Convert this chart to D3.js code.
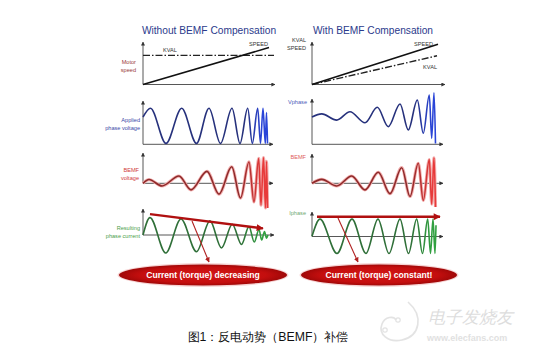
<!DOCTYPE html>
<html><head><meta charset="utf-8">
<script src="https://cdn.jsdelivr.net/npm/d3@7/dist/d3.min.js"></script>
<style>
html,body{margin:0;padding:0;background:#fff;}
svg{display:block;}
text{font-family:"Liberation Sans",Arial,sans-serif;}
</style></head>
<body><svg id="c" width="558" height="358"></svg>
<script>
// ---------------- DATA (time units along each panel's x axis, normalized amplitude) ----------------
const titles = ["Without BEMF Compensation", "With BEMF Compensation"];
const bannerTexts = ["Current (torque) decreasing", "Current (torque) constant!"];
const captionText = "图1：反电动势（BEMF）补偿";

// Top row: motor speed / KVAL
const speedLeft = [[0, 0], [126, 0.90]];
const kvalLeft  = [[0, 0.71], [131, 0.71]];
const speedRight = [[0, 0], [126, 0.98]];
const kvalRight  = [[0, 0], [125, 0.70]];

// Applied phase voltage (extrema)
const appliedLeft = [[0,0.4],[7.5,0.8],[23,-0.8],[38.7,0.8],[53.5,-0.8],[66,0.8],[77.5,-0.8],[89,0.8],[97,-0.8],[104.7,0.8],[109.3,-0.8],[114.7,0.8],[117.5,-0.8],[120,0.8],[122.3,-0.8],[123.5,0.6],[124.5,-0.8]];
const appliedRight = [[0,0],[9.7,0.14],[24.7,-0.14],[38,0.24],[53,-0.26],[65.3,0.44],[76.3,-0.44],[88,0.59],[96.3,-0.59],[105.3,0.77],[111.3,-0.74],[117.3,1.0],[119.7,-0.97],[122,1.1],[123.5,-1.2]];

// BEMF voltage (extrema)
const bemfLeft = [[0,0],[6,0.17],[19,-0.12],[36,0.33],[48,-0.3],[64,0.54],[76,-0.49],[88.7,0.75],[97.5,-0.67],[106,0.97],[111,-0.85],[115.7,1.13],[118,-0.99],[120.5,1.17],[122.5,-1.12],[123.5,1.0],[124.5,-1.12]];
const bemfRight = [[0,0],[9.7,0.18],[24.7,-0.12],[39.7,0.33],[53,-0.3],[66.3,0.5],[78,-0.47],[89.7,0.71],[98,-0.6],[106.3,0.91],[111.3,-0.78],[117.3,1.08],[119.7,-0.95],[122,1.16],[123.5,-1.08]];

// Resulting phase current (extrema)
const currentLeft = [[0,0],[7,0.79],[22.7,-0.82],[38,0.73],[53.5,-0.76],[67,0.64],[78.5,-0.59],[89.3,0.49],[98.5,-0.43],[106,0.38],[111.3,-0.32],[116,0.25],[118.7,-0.23],[121.5,0.16],[123.5,-0.14],[125,0]];
const currentRight = [[0,0],[8,0.78],[25,-0.78],[40,0.78],[54,-0.78],[66,0.78],[77,-0.78],[88,0.78],[96.5,-0.78],[104.7,0.78],[110.5,-0.78],[115.7,0.78],[118.5,-0.78],[121,0.78],[123,-0.78],[124,0.5]];

// Current envelope arrows and annotation arrows
const envLeft = [[7, 0.95], [120, 0.30]];
const envRight = [[5, 0.89], [128, 0.89]];
const pointerLeft = [[49, 0.64], [66, -1.23]];
const pointerRight = [[26, 0.83], [46, -1.17]];

// ---------------- LAYOUT ----------------
const svg = d3.select("#c");
const defs = svg.append("defs");
function marker(id, color, w, h){
  defs.append("marker").attr("id", id).attr("viewBox","0 0 10 10").attr("refX",9).attr("refY",5)
    .attr("markerWidth", w).attr("markerHeight", h).attr("orient","auto").attr("markerUnits","userSpaceOnUse")
    .append("path").attr("d","M0,0L10,5L0,10Z").attr("fill", color);
}
marker("ax", "#333", 4, 4);
marker("redBig", "#b01010", 8, 7);
marker("redSmall", "#b02020", 5, 5);

function grad(id, x1, x2, stops){
  const g = defs.append("linearGradient").attr("id", id).attr("gradientUnits","userSpaceOnUse")
    .attr("x1", x1).attr("x2", x2).attr("y1",0).attr("y2",0);
  stops.forEach(s => g.append("stop").attr("offset", s[0]).attr("stop-color", s[1]));
}
grad("blueL", 245, 262, [[0,"#26317c"],[1,"#2a45d8"]]);
grad("blueR", 414, 432, [[0,"#26317c"],[1,"#2a45d8"]]);
grad("redL", 240, 262, [[0,"#8e2a2a"],[1,"#e83a3a"]]);
grad("redR", 410, 432, [[0,"#8e2a2a"],[1,"#e83a3a"]]);
grad("greenL", 240, 262, [[0,"#2f6f38"],[1,"#30a040"]]);
grad("greenR", 410, 432, [[0,"#2f6f38"],[1,"#30a040"]]);

const cols = [
  {x: d3.scaleLinear().domain([0,130]).range([143,273]), side:"L"},
  {x: d3.scaleLinear().domain([0,130]).range([312,442]), side:"R"}
];

// Titles
svg.selectAll("text.title").data(titles).join("text").attr("class","title")
  .attr("x",(d,i)=> i===0 ? 209 : 373).attr("y", 34).attr("text-anchor","middle")
  .attr("font-size", 10.2).attr("fill","#2b3a8c").text(d=>d);

function axes(x, yTop, yBase, xEnd){
  svg.append("line").attr("x1", x.range()[0]).attr("x2", x.range()[0]).attr("y1", yBase).attr("y2", yTop)
    .attr("stroke","#444").attr("stroke-width",0.9).attr("marker-end","url(#ax)");
  svg.append("line").attr("x1", x.range()[0]).attr("x2", xEnd).attr("y1", yBase).attr("y2", yBase)
    .attr("stroke","#444").attr("stroke-width",0.9).attr("marker-end","url(#ax)");
}
function label(lines, xr, y0, color, anchor, size){
  lines.forEach((t,i)=> svg.append("text").attr("x", xr).attr("y", y0 + i*8).attr("text-anchor", anchor||"end")
    .attr("font-size", size||5.6).attr("fill", color).text(t));
}

// ---------- Row 1: speed ----------
const ySpeed = d3.scaleLinear().domain([0,1]).range([84.5,43.5]);
const lineS = (x)=> d3.line().x(d=>x(d[0])).y(d=>ySpeed(d[1]));
axes(cols[0].x, 42, 84.5, 275);
axes(cols[1].x, 42, 84.5, 445);
svg.append("path").attr("d", lineS(cols[0].x)(kvalLeft)).attr("fill","none").attr("stroke","#222").attr("stroke-width",1.4).attr("stroke-dasharray","7,2,1.5,2");
svg.append("path").attr("d", lineS(cols[0].x)(speedLeft)).attr("fill","none").attr("stroke","#111").attr("stroke-width",1.6);
svg.append("path").attr("d", lineS(cols[1].x)(kvalRight)).attr("fill","none").attr("stroke","#222").attr("stroke-width",1.4).attr("stroke-dasharray","7,2,1.5,2");
svg.append("path").attr("d", lineS(cols[1].x)(speedRight)).attr("fill","none").attr("stroke","#111").attr("stroke-width",1.6);
label(["KVAL"], 163, 51.5, "#333", "start");
label(["SPEED"], 249, 46, "#333", "start");
label(["Motor","speed"], 136, 64, "#9a3a3a");
label(["KVAL","SPEED"], 306, 42, "#333");
label(["SPEED"], 433, 46, "#333");
label(["KVAL"], 437, 69, "#333");

// ---------- Wave rows ----------
function wave(x, cy, data, stroke, w){
  const y = d3.scaleLinear().domain([-1,1]).range([cy+22, cy-22]);
  const ln = d3.line().x(d=>x(d[0])).y(d=>y(d[1])).curve(d3.curveMonotoneX);
  svg.append("path").attr("d", ln(data)).attr("fill","none").attr("stroke", stroke).attr("stroke-width", w||1.6).attr("stroke-linejoin","round");
  return y;
}

// Applied phase voltage
axes(cols[0].x, 101, 144.3, 273);
axes(cols[1].x, 99, 144.3, 443);
wave(cols[0].x, 125.8, appliedLeft, "url(#blueL)");
wave(cols[1].x, 117, appliedRight, "url(#blueR)");
label(["Applied","phase voltage"], 140, 121.5, "#3a48a8");
label(["Vphase"], 307, 104, "#4a5ab8");

// BEMF voltage
axes(cols[0].x, 153, 183.3, 273);
axes(cols[1].x, 154, 183.3, 443);
wave(cols[0].x, 183.3, bemfLeft, "#f3b0b0", 3.2);
wave(cols[1].x, 183.3, bemfRight, "#f3b0b0", 3.2);
wave(cols[0].x, 183.3, bemfLeft, "url(#redL)");
wave(cols[1].x, 183.3, bemfRight, "url(#redR)");
label(["BEMF","voltage"], 139, 172, "#d03a3a");
label(["BEMF"], 306, 159, "#e06060");

// Resulting phase current
axes(cols[0].x, 209, 235, 274);
axes(cols[1].x, 212, 236.5, 443);
const yCL = wave(cols[0].x, 235, currentLeft, "url(#greenL)");
const yCR = wave(cols[1].x, 236.3, currentRight, "url(#greenR)");
label(["Resulting","phase current"], 140, 229.5, "#4aa04a");
label(["Iphase"], 306, 215, "#70a870");

// Envelope arrows
const envLine = (x,y)=> d3.line().x(d=>x(d[0])).y(d=>y(d[1]));
svg.append("path").attr("d", envLine(cols[0].x, yCL)(envLeft)).attr("stroke","#b01010").attr("stroke-width",2.4).attr("fill","none").attr("marker-end","url(#redBig)");
svg.append("path").attr("d", envLine(cols[1].x, yCR)(envRight)).attr("stroke","#b01010").attr("stroke-width",2.4).attr("fill","none").attr("marker-end","url(#redBig)");
svg.append("path").attr("d", envLine(cols[0].x, yCL)(pointerLeft)).attr("stroke","#b02020").attr("stroke-width",1.1).attr("fill","none").attr("marker-end","url(#redSmall)");
svg.append("path").attr("d", envLine(cols[1].x, yCR)(pointerRight)).attr("stroke","#b02020").attr("stroke-width",1.1).attr("fill","none").attr("marker-end","url(#redSmall)");

// Banner ellipses
const rg = defs.append("radialGradient").attr("id","ell");
rg.append("stop").attr("offset",0).attr("stop-color","#d41818");
rg.append("stop").attr("offset",0.75).attr("stop-color","#c40e0e");
rg.append("stop").attr("offset",1).attr("stop-color","#a00808");
const banners = [{cx:203, rx:84}, {cx:379, rx:78}];
banners.forEach((b,i)=>{
  svg.append("ellipse").attr("cx", b.cx).attr("cy", 275).attr("rx", b.rx+1.5).attr("ry", 12).attr("fill","#f0b8b8").attr("opacity",0.6);
  svg.append("ellipse").attr("cx", b.cx).attr("cy", 275).attr("rx", b.rx).attr("ry", 10.5).attr("fill","url(#ell)");
  svg.append("text").attr("x", b.cx).attr("y", 278.2).attr("text-anchor","middle").attr("font-size", 8.6)
    .attr("font-weight","bold").attr("fill","#fff").text(bannerTexts[i]);
});

// Caption
svg.append("text").attr("x", 268).attr("y", 341).attr("text-anchor","middle")
  .attr("font-family", '"Noto Sans CJK SC","Noto Sans",sans-serif').attr("font-size", 12.3).attr("fill","#111").text(captionText);

// Watermark
const wm = svg.append("g").attr("opacity",0.5);
wm.append("path").attr("d","M408,302 C424,316 420,336 402,340 C388,343 378,334 382,324 C385,316 394,316 396,320")
  .attr("fill","none").attr("stroke","#c8c8c8").attr("stroke-width",1.6);
wm.append("circle").attr("cx",385).attr("cy",330).attr("r",2.2).attr("fill","none").attr("stroke","#c8c8c8").attr("stroke-width",1.2);
wm.append("circle").attr("cx",398).attr("cy",320).attr("r",2.2).attr("fill","none").attr("stroke","#c8c8c8").attr("stroke-width",1.2);
wm.append("text").attr("x",428).attr("y",323).attr("font-family",'"Noto Sans CJK SC",sans-serif').attr("font-size",17)
  .attr("font-style","italic").attr("fill","#bdbdbd").text("电子发烧友");
wm.append("text").attr("x",427).attr("y",341).attr("font-size",9).attr("font-weight","bold").attr("fill","#c4c4c4").text("www.elecfans.com");
</script></body></html>
